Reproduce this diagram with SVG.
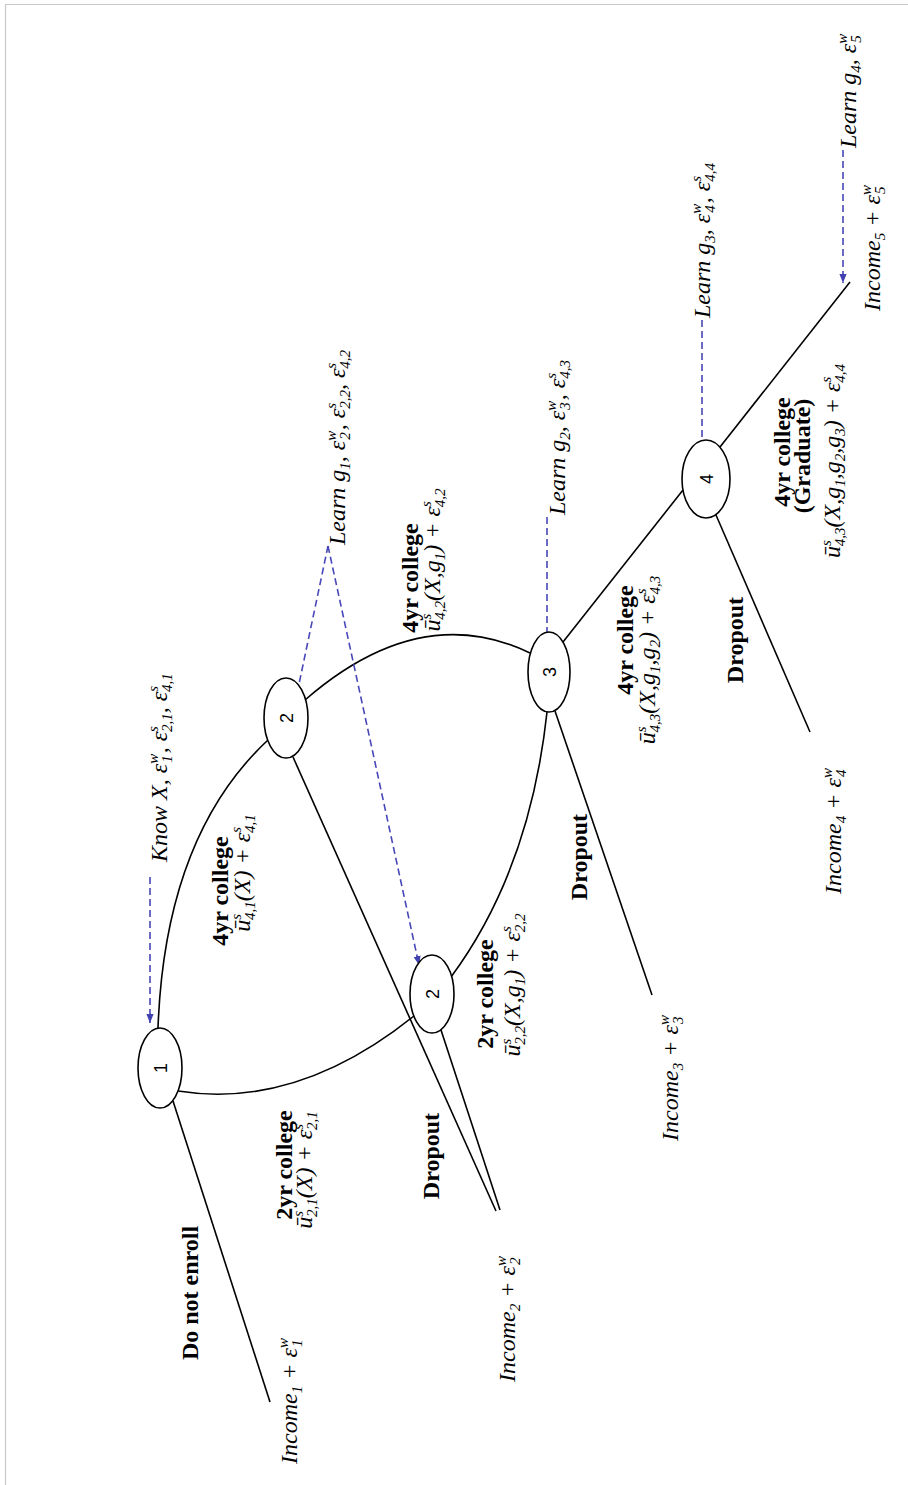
<svg xmlns="http://www.w3.org/2000/svg" width="908" height="1485" viewBox="0 0 908 1485">
<style>
.b{font-family:"Liberation Serif",serif;font-weight:bold;font-size:24px;fill:#000}
.i{font-family:"Liberation Serif",serif;font-style:italic;font-size:24px;fill:#000}
.s{font-size:15px}
.n{font-family:"Liberation Sans",sans-serif;font-size:18px;fill:#000}
.ln{stroke:#000;stroke-width:1.6;fill:none}
.dash{stroke:#4848b8;stroke-width:1.6;stroke-dasharray:7 4;fill:none;marker-end:url(#ah)}
.nd{fill:#fff;stroke:#000;stroke-width:1.6}
.frame{stroke:#c8c8c8;stroke-width:1.2;fill:none}
</style>
<defs>
<marker id="ah" viewBox="0 0 10 10" refX="10" refY="5" markerWidth="9" markerHeight="9" orient="auto" markerUnits="userSpaceOnUse">
<path d="M0,1 L10,5 L0,9 z" fill="#4040b0"/>
</marker>
</defs>
<rect width="908" height="1485" fill="#fff"/>
<path class="frame" d="M5.5,1485 V4.5 H908"/>

<g id="connectors">
<path class="ln" d="M158,1028 Q165,836 268,740"/>
<path class="ln" d="M178,1091 Q297,1110 414,1016"/>
<path class="ln" d="M305,700 Q420,600 530,653"/>
<path class="ln" d="M451,977 Q530,870 547,712"/>
<path class="ln" d="M563,642 L683,490"/>
<path class="ln" d="M720,447 L850,282"/>
<path class="ln" d="M173,1101 L270,1402"/>
<path class="ln" d="M293,757 L496,1211"/>
<path class="ln" d="M441,1030 L500,1210"/>
<path class="ln" d="M555,711 L652,995"/>
<path class="ln" d="M716,515 L810,732"/>
<path class="dash" d="M150,877 L150,1023"/>
<path class="dash" d="M328,546 L295,703"/>
<path class="dash" d="M328,546 L419,965"/>
<path class="dash" d="M547,517 L547,650"/>
<path class="dash" d="M702,320 L702,460"/>
<path class="dash" d="M843,150 L843,283"/>
</g>

<g id="node1"><ellipse class="nd" cx="160" cy="1068" rx="22" ry="40"/><text class="n" text-anchor="middle" transform="translate(166.5,1068) rotate(-90)">1</text></g>
<g id="node2a"><ellipse class="nd" cx="286" cy="718" rx="22" ry="40"/><text class="n" text-anchor="middle" transform="translate(292.5,718) rotate(-90)">2</text></g>
<g id="node2b"><ellipse class="nd" cx="432" cy="994" rx="22" ry="39"/><text class="n" text-anchor="middle" transform="translate(438.5,994) rotate(-90)">2</text></g>
<g id="node3"><ellipse class="nd" cx="549" cy="672" rx="21" ry="40"/><text class="n" text-anchor="middle" transform="translate(555.5,672) rotate(-90)">3</text></g>
<g id="node4"><ellipse class="nd" cx="706" cy="479" rx="24" ry="39"/><text class="n" text-anchor="middle" transform="translate(712.5,479) rotate(-90)">4</text></g>

<g id="labels">
<text class="b" text-anchor="middle" transform="translate(198,1293) rotate(-90)">Do not enroll</text>
<text class="b" text-anchor="middle" transform="translate(228,891) rotate(-90)">4yr college</text>
<text class="i" text-anchor="middle" transform="translate(250,873) rotate(-90)">ū<tspan class="s" dy="-9">s</tspan><tspan class="s" dx="-6" dy="14">4,1</tspan><tspan dy="-5">(X) + ε</tspan><tspan class="s" dy="-9">s</tspan><tspan class="s" dx="-6" dy="14">4,1</tspan></text>
<text class="b" text-anchor="middle" transform="translate(292,1165) rotate(-90)">2yr college</text>
<text class="i" text-anchor="middle" transform="translate(312,1170) rotate(-90)">ū<tspan class="s" dy="-9">s</tspan><tspan class="s" dx="-6" dy="14">2,1</tspan><tspan dy="-5">(X) + ε</tspan><tspan class="s" dy="-9">s</tspan><tspan class="s" dx="-6" dy="14">2,1</tspan></text>
<text class="b" text-anchor="middle" transform="translate(439,1156) rotate(-90)">Dropout</text>
<text class="b" text-anchor="middle" transform="translate(418,578) rotate(-90)">4yr college</text>
<text class="i" text-anchor="middle" transform="translate(440,560) rotate(-90)">ū<tspan class="s" dy="-9">s</tspan><tspan class="s" dx="-6" dy="14">4,2</tspan><tspan dy="-5">(X,g</tspan><tspan class="s" dy="5">1</tspan><tspan dy="-5">) + ε</tspan><tspan class="s" dy="-9">s</tspan><tspan class="s" dx="-6" dy="14">4,2</tspan></text>
<text class="b" text-anchor="middle" transform="translate(493,994) rotate(-90)">2yr college</text>
<text class="i" text-anchor="middle" transform="translate(520,985) rotate(-90)">ū<tspan class="s" dy="-9">s</tspan><tspan class="s" dx="-6" dy="14">2,2</tspan><tspan dy="-5">(X,g</tspan><tspan class="s" dy="5">1</tspan><tspan dy="-5">) + ε</tspan><tspan class="s" dy="-9">s</tspan><tspan class="s" dx="-6" dy="14">2,2</tspan></text>
<text class="b" text-anchor="middle" transform="translate(587,857) rotate(-90)">Dropout</text>
<text class="b" text-anchor="middle" transform="translate(633,640) rotate(-90)">4yr college</text>
<text class="i" text-anchor="middle" transform="translate(655,660) rotate(-90)">ū<tspan class="s" dy="-9">s</tspan><tspan class="s" dx="-6" dy="14">4,3</tspan><tspan dy="-5">(X,g</tspan><tspan class="s" dy="5">1</tspan><tspan dy="-5">,g</tspan><tspan class="s" dy="5">2</tspan><tspan dy="-5">) + ε</tspan><tspan class="s" dy="-9">s</tspan><tspan class="s" dx="-6" dy="14">4,3</tspan></text>
<text class="b" text-anchor="middle" transform="translate(743,640) rotate(-90)">Dropout</text>
<text class="b" text-anchor="middle" transform="translate(790,452) rotate(-90)">4yr college</text>
<text class="b" text-anchor="middle" transform="translate(810,456) rotate(-90)">(Graduate)</text>
<text class="i" text-anchor="middle" transform="translate(840,461) rotate(-90)">ū<tspan class="s" dy="-9">s</tspan><tspan class="s" dx="-6" dy="14">4,3</tspan><tspan dy="-5">(X,g</tspan><tspan class="s" dy="5">1</tspan><tspan dy="-5">,g</tspan><tspan class="s" dy="5">2</tspan><tspan dy="-5">,g</tspan><tspan class="s" dy="5">3</tspan><tspan dy="-5">) + ε</tspan><tspan class="s" dy="-9">s</tspan><tspan class="s" dx="-6" dy="14">4,4</tspan></text>

<text class="i" text-anchor="middle" transform="translate(297,1401) rotate(-90)">Income<tspan class="s" dy="5">1</tspan><tspan dy="-5"> + ε</tspan><tspan class="s" dy="-9">w</tspan><tspan class="s" dx="-9" dy="14">1</tspan></text>
<text class="i" text-anchor="middle" transform="translate(515,1319) rotate(-90)">Income<tspan class="s" dy="5">2</tspan><tspan dy="-5"> + ε</tspan><tspan class="s" dy="-9">w</tspan><tspan class="s" dx="-9" dy="14">2</tspan></text>
<text class="i" text-anchor="middle" transform="translate(678,1078) rotate(-90)">Income<tspan class="s" dy="5">3</tspan><tspan dy="-5"> + ε</tspan><tspan class="s" dy="-9">w</tspan><tspan class="s" dx="-9" dy="14">3</tspan></text>
<text class="i" text-anchor="middle" transform="translate(841,831) rotate(-90)">Income<tspan class="s" dy="5">4</tspan><tspan dy="-5"> + ε</tspan><tspan class="s" dy="-9">w</tspan><tspan class="s" dx="-9" dy="14">4</tspan></text>
<text class="i" text-anchor="middle" transform="translate(880,248) rotate(-90)">Income<tspan class="s" dy="5">5</tspan><tspan dy="-5"> + ε</tspan><tspan class="s" dy="-9">w</tspan><tspan class="s" dx="-9" dy="14">5</tspan></text>

<text class="i" transform="translate(167,862) rotate(-90)">Know X, ε<tspan class="s" dy="-9">w</tspan><tspan class="s" dx="-9" dy="14">1</tspan><tspan dy="-5" dx="2">, ε</tspan><tspan class="s" dy="-9">s</tspan><tspan class="s" dx="-6" dy="14">2,1</tspan><tspan dy="-5">, ε</tspan><tspan class="s" dy="-9">s</tspan><tspan class="s" dx="-6" dy="14">4,1</tspan></text>
<text class="i" transform="translate(345,545) rotate(-90)">Learn g<tspan class="s" dy="5">1</tspan><tspan dy="-5">, ε</tspan><tspan class="s" dy="-9">w</tspan><tspan class="s" dx="-9" dy="14">2</tspan><tspan dy="-5" dx="2">, ε</tspan><tspan class="s" dy="-9">s</tspan><tspan class="s" dx="-6" dy="14">2,2</tspan><tspan dy="-5">, ε</tspan><tspan class="s" dy="-9">s</tspan><tspan class="s" dx="-6" dy="14">4,2</tspan></text>
<text class="i" transform="translate(565,515) rotate(-90)">Learn g<tspan class="s" dy="5">2</tspan><tspan dy="-5">, ε</tspan><tspan class="s" dy="-9">w</tspan><tspan class="s" dx="-9" dy="14">3</tspan><tspan dy="-5" dx="2">, ε</tspan><tspan class="s" dy="-9">s</tspan><tspan class="s" dx="-6" dy="14">4,3</tspan></text>
<text class="i" transform="translate(710,318) rotate(-90)">Learn g<tspan class="s" dy="5">3</tspan><tspan dy="-5">, ε</tspan><tspan class="s" dy="-9">w</tspan><tspan class="s" dx="-9" dy="14">4</tspan><tspan dy="-5" dx="2">, ε</tspan><tspan class="s" dy="-9">s</tspan><tspan class="s" dx="-6" dy="14">4,4</tspan></text>
<text class="i" transform="translate(856,148) rotate(-90)">Learn g<tspan class="s" dy="5">4</tspan><tspan dy="-5">, ε</tspan><tspan class="s" dy="-9">w</tspan><tspan class="s" dx="-9" dy="14">5</tspan></text>
</g>
</svg>
